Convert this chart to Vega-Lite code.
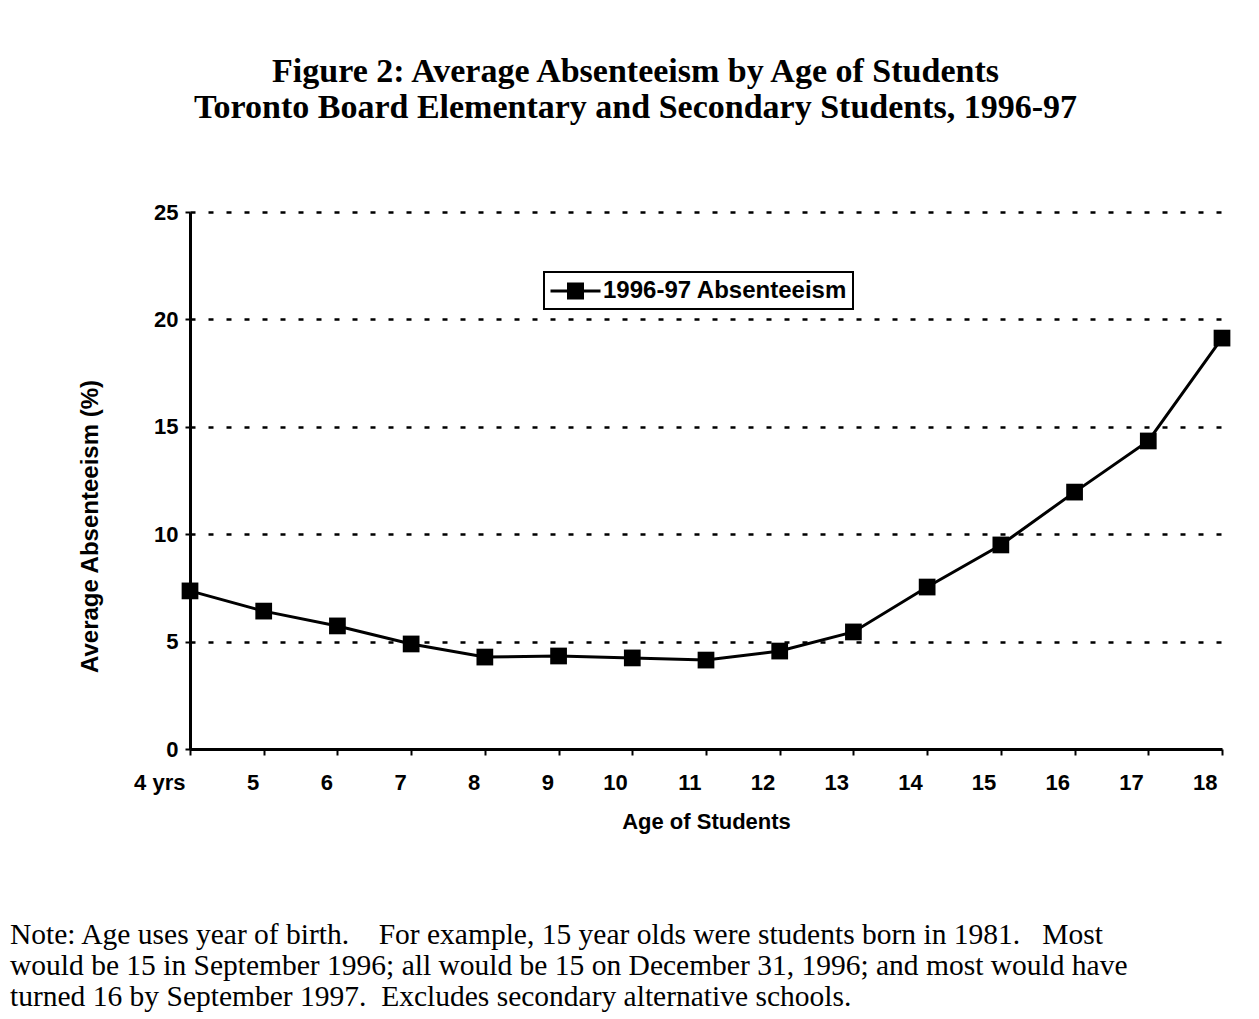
{
  "$schema": "https://vega.github.io/schema/vega-lite/v6.json",
  "width": 1032,
  "height": 537,
  "autosize": {"type": "none"},
  "padding": {"left": 190, "top": 212, "right": 37, "bottom": 270},
  "background": "white",
  "config": {
    "view": {"stroke": null},
    "font": "Liberation Sans",
    "legend": {
      "orient": "none",
      "legendX": 354,
      "legendY": 60,
      "title": null,
      "strokeColor": "black",
      "strokeWidth": 2,
      "padding": 5,
      "symbolType": "M-1,0H3M0.44,-0.56H1.56V0.56H0.44Z",
      "symbolSize": 625,
      "symbolFillColor": "black",
      "symbolStrokeColor": "black",
      "symbolStrokeWidth": 3,
      "symbolOpacity": 1,
      "labelOffset": 26,
      "labelFont": "Liberation Sans",
      "labelFontSize": 24,
      "labelFontWeight": "bold",
      "labelColor": "black",
      "labelLimit": 400
    }
  },
  "data": {
    "values": [
      {"age": 4, "absenteeism": 7.36, "series": "1996-97 Absenteeism"},
      {"age": 5, "absenteeism": 6.42, "series": "1996-97 Absenteeism"},
      {"age": 6, "absenteeism": 5.73, "series": "1996-97 Absenteeism"},
      {"age": 7, "absenteeism": 4.89, "series": "1996-97 Absenteeism"},
      {"age": 8, "absenteeism": 4.28, "series": "1996-97 Absenteeism"},
      {"age": 9, "absenteeism": 4.33, "series": "1996-97 Absenteeism"},
      {"age": 10, "absenteeism": 4.24, "series": "1996-97 Absenteeism"},
      {"age": 11, "absenteeism": 4.14, "series": "1996-97 Absenteeism"},
      {"age": 12, "absenteeism": 4.56, "series": "1996-97 Absenteeism"},
      {"age": 13, "absenteeism": 5.45, "series": "1996-97 Absenteeism"},
      {"age": 14, "absenteeism": 7.54, "series": "1996-97 Absenteeism"},
      {"age": 15, "absenteeism": 9.5, "series": "1996-97 Absenteeism"},
      {"age": 16, "absenteeism": 11.96, "series": "1996-97 Absenteeism"},
      {"age": 17, "absenteeism": 14.34, "series": "1996-97 Absenteeism"},
      {"age": 18, "absenteeism": 19.13, "series": "1996-97 Absenteeism"}
    ]
  },
  "title": {
    "text": [
      "Note: Age uses year of birth.\u00a0\u00a0\u00a0\u00a0For example, 15 year olds were students born in 1981.\u00a0\u00a0\u00a0Most",
      "would be 15 in September 1996; all would be 15 on December 31, 1996; and most would have",
      "turned 16 by September 1997.\u00a0\u00a0Excludes secondary alternative schools."
    ],
    "orient": "bottom",
    "anchor": "start",
    "frame": "group",
    "dx": -180,
    "offset": 89,
    "font": "Liberation Serif",
    "fontSize": 29.5,
    "fontWeight": "normal",
    "color": "black",
    "lineHeight": 31
  },
  "resolve": {"axis": {"x": "independent"}},
  "layer": [
    {
      "mark": {"type": "line", "color": "black", "strokeWidth": 3},
      "encoding": {
        "x": {
          "field": "age",
          "type": "quantitative",
          "scale": {"domain": [4, 18], "nice": false, "zero": false},
          "axis": {
            "orient": "bottom",
            "values": [4, 5, 6, 7, 8, 9, 10, 11, 12, 13, 14, 15, 16, 17, 18],
            "labelExpr": "datum.value == 4 ? '4 yrs' : datum.label",
            "grid": false,
            "domainColor": "black",
            "domainWidth": 3,
            "tickColor": "black",
            "tickWidth": 2,
            "tickSize": 6,
            "labelAlign": "right",
            "labelOffset": -5,
            "labelPadding": 17,
            "labelFont": "Liberation Sans",
            "labelFontSize": 22,
            "labelFontWeight": "bold",
            "labelColor": "black",
            "labelFlush": false,
            "labelOverlap": false,
            "title": "Age of Students",
            "titleFont": "Liberation Sans",
            "titleFontSize": 22,
            "titleFontWeight": "bold",
            "titleColor": "black",
            "titleX": 516,
            "titleY": 79,
            "titleBaseline": "alphabetic",
            "titleAlign": "center"
          }
        },
        "y": {
          "field": "absenteeism",
          "type": "quantitative",
          "scale": {"domain": [0, 25], "nice": false},
          "axis": {
            "values": [0, 5, 10, 15, 20, 25],
            "grid": true,
            "gridColor": "black",
            "gridWidth": 2.5,
            "gridDash": [5, 13],
            "domainColor": "black",
            "domainWidth": 3,
            "tickColor": "black",
            "tickWidth": 2,
            "tickSize": 5,
            "labelPadding": 7,
            "labelFont": "Liberation Sans",
            "labelFontSize": 22,
            "labelFontWeight": "bold",
            "labelColor": "black",
            "labelFlush": false,
            "title": "Average Absenteeism (%)",
            "titleFont": "Liberation Sans",
            "titleFontSize": 24,
            "titleFontWeight": "bold",
            "titleColor": "black",
            "titleAngle": -90,
            "titleX": -100,
            "titleY": 314,
            "titleAlign": "center",
            "titleBaseline": "middle"
          }
        },
        "color": {
          "field": "series",
          "type": "nominal",
          "scale": {"range": ["black"]}
        }
      }
    },
    {
      "mark": {"type": "point", "shape": "square", "filled": true, "size": 280, "opacity": 1, "color": "black"},
      "encoding": {
        "x": {
          "field": "age",
          "type": "quantitative",
          "axis": {
            "orient": "top",
            "domain": false,
            "ticks": false,
            "labels": false,
            "grid": false,
            "title": [
              "Figure 2: Average Absenteeism by Age of Students",
              "Toronto Board Elementary and Secondary Students, 1996-97"
            ],
            "titleFont": "Liberation Serif",
            "titleFontSize": 34,
            "titleFontWeight": "bold",
            "titleColor": "black",
            "titleLineHeight": 36,
            "titleX": 445,
            "titleY": -131,
            "titleAlign": "center",
            "titleBaseline": "alphabetic"
          }
        },
        "y": {"field": "absenteeism", "type": "quantitative"},
        "color": {
          "field": "series",
          "type": "nominal",
          "scale": {"range": ["black"]}
        }
      }
    }
  ]
}
